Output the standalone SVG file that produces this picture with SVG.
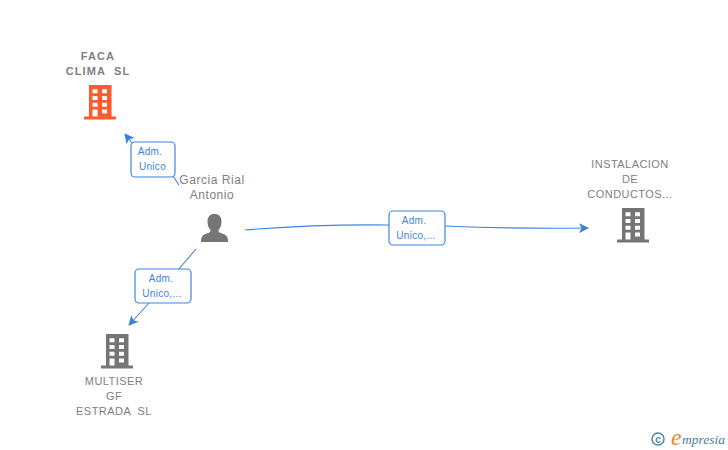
<svg xmlns="http://www.w3.org/2000/svg" width="728" height="450" viewBox="0 0 728 450">
<style>
.lbl{font-family:"Liberation Sans",Arial,sans-serif;font-size:11px;fill:#808080;text-anchor:middle;letter-spacing:.45px;white-space:pre}
.bold{font-weight:bold;letter-spacing:1.1px}
.pl{font-size:12px;letter-spacing:.55px}
.edge{font-family:"Liberation Sans",Arial,sans-serif;font-size:10px;fill:#3f7fdc;text-anchor:middle;letter-spacing:.3px}
.box{fill:#fff;stroke:#3f84e5;stroke-width:1.2}
.ln{fill:none;stroke:#3f84e5;stroke-width:1.1}
</style>
<defs>
<marker id="ah" markerUnits="userSpaceOnUse" markerWidth="11" markerHeight="10" refX="9" refY="5" orient="auto"><path d="M0 0L10 5L0 10L2.500 5Z" fill="#3f7fdc"/></marker>
<symbol id="bld" viewBox="0 0 32 35" overflow="visible">
<path fill-rule="evenodd" d="M5 0H27.500V31.500H32V34.500H0V31.500H5ZM8.500 4.300V8.300H13.500V4.300ZM18 4.300V8.300H23V4.300ZM8.500 11V15H13.500V11ZM18 11V15H23V11ZM8.500 17.700V21.700H13.500V17.700ZM18 17.700V21.700H23V17.700ZM8.500 24.400V31.500H13.500V24.400ZM18 24.400V28.400H23V24.400Z"/>
</symbol>
</defs>
<rect width="728" height="450" fill="#fff"/>
<g id="connectors">
<path class="ln" d="M179 185L169 170M132 143L125 134" marker-end="url(#ah)"/>
<path class="ln" d="M196 249L178 270M149 303L129 325" marker-end="url(#ah)"/>
<path class="ln" d="M245 230Q320 224 389 225M445 226Q520 229 588 228" marker-end="url(#ah)"/>
</g>
<g id="edge-1"><rect class="box" x="131" y="142" width="44" height="35" rx="4"/><text class="edge" x="150" y="155">Adm.</text><text class="edge" x="152.500" y="170">Unico</text></g>
<g id="edge-2"><rect class="box" x="135" y="269" width="56" height="34" rx="4"/><text class="edge" x="161" y="282">Adm.</text><text class="edge" x="162" y="297">Unico,...</text></g>
<g id="edge-3"><rect class="box" x="389" y="211" width="56" height="34" rx="4"/><text class="edge" x="414" y="224">Adm.</text><text class="edge" x="416" y="239">Unico,...</text></g>
<g id="node-faca">
<text class="lbl bold" x="98" y="60">FACA</text><text class="lbl bold" x="98" y="75">CLIMA  SL</text>
<use href="#bld" x="84" y="85" width="32" height="35" fill="#ff5c2b"/>
</g>
<g id="node-garcia">
<text class="lbl pl" x="212" y="184">Garcia Rial</text><text class="lbl pl" x="212" y="199">Antonio</text>
<path fill="#757575" d="M201 242C201 236 203 235 207 233.500C210 232.500 211 231.500 210.500 230C208.500 228 207.500 225 207.500 221.500C207.500 216.500 210 214 214.500 214C219 214 221.500 216.500 221.500 221.500C221.500 225 220.500 228 218.500 230C218 231.500 219 232.500 222 233.500C226 235 228 236 228 242Z"/>
</g>
<g id="node-multiser">
<use href="#bld" x="101" y="334" width="32" height="35" fill="#757575"/>
<text class="lbl" x="114" y="385">MULTISER</text><text class="lbl" x="114" y="400">GF</text><text class="lbl" x="114" y="415">ESTRADA  SL</text>
</g>
<g id="node-instalacion">
<text class="lbl" x="630" y="168">INSTALACION</text><text class="lbl" x="630" y="183">DE</text><text class="lbl" x="630" y="198">CONDUCTOS...</text>
<use href="#bld" x="617" y="208" width="32" height="35" fill="#757575"/>
</g>
<g id="logo">
<circle cx="658" cy="439" r="6" fill="none" stroke="#4a8a9c" stroke-width="1.500"/>
<text x="658" y="442.500" font-family="Liberation Sans,sans-serif" font-size="10" font-weight="bold" fill="#4a8a9c" text-anchor="middle">c</text>
<text x="671" y="445" font-family="Liberation Serif,serif" font-style="italic" font-size="24" fill="#f08a1d">e</text>
<text x="682" y="444" font-family="Liberation Serif,serif" font-style="italic" font-size="13.500" fill="#3f7f94">mpresia</text>
</g>
</svg>
